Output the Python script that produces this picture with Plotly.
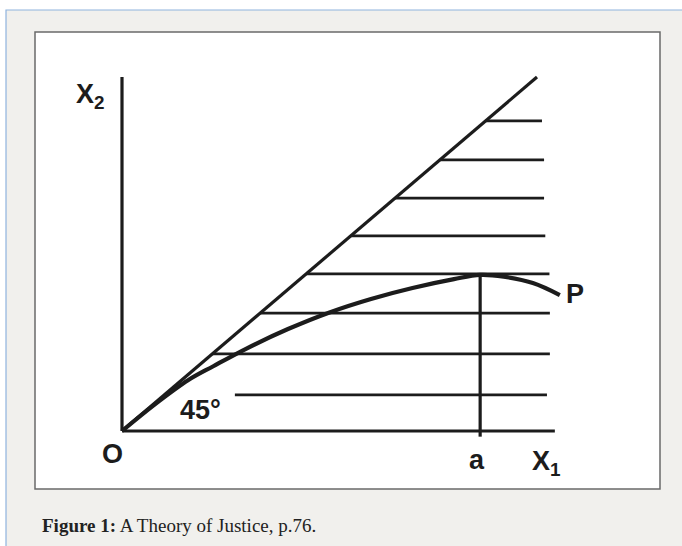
import plotly.graph_objects as go

W, H = 682, 546

# 45-degree reference line
diag_x = [0, 100]
diag_y = [0, 100]

# Axes of the diagram
x_axis_end = 104.3
y_axis_end = 100

# Horizontal hatch lines: height, left end, right end
hatch_levels = [87.6, 76.6, 65.8, 55.1, 44.4, 33.3, 21.8, 10.2]
hatch_start = [87.6, 76.6, 65.8, 55.1, 44.4, 33.3, 21.8, 27.2]
hatch_end = [101.2, 101.7, 101.7, 102.0, 103.0, 103.1, 103.1, 102.4]

# Curve P
curve_x = [0, 8, 16, 22, 30, 40, 50, 60, 70, 80, 86.3, 92, 99, 105.5]
curve_y = [0, 7.6, 14.4, 18.3, 23.3, 28.8, 33.5, 37.3, 40.4, 42.9, 44.1, 43.6, 41.8, 38.4]

# Point a on the X1 axis (peak of P)
a_x = 86.3
a_top = 44.1
a_bottom = -1.6

INK = "#1c1c1c"

fig = go.Figure()

# axes
fig.add_trace(go.Scatter(x=[0, 0, None, 0, x_axis_end], y=[y_axis_end, 0, None, 0, 0],
                         mode="lines", line=dict(color=INK, width=3.2), hoverinfo="skip"))
# 45-degree line
fig.add_trace(go.Scatter(x=diag_x, y=diag_y, mode="lines",
                         line=dict(color=INK, width=3.2), hoverinfo="skip"))
# hatch lines
hx, hy = [], []
for lv, s, e in zip(hatch_levels, hatch_start, hatch_end):
    hx += [s, e, None]
    hy += [lv, lv, None]
fig.add_trace(go.Scatter(x=hx, y=hy, mode="lines",
                         line=dict(color=INK, width=2.8), hoverinfo="skip"))
# curve P
fig.add_trace(go.Scatter(x=curve_x, y=curve_y, mode="lines",
                         line=dict(color=INK, width=4.2, shape="spline", smoothing=1.0),
                         hoverinfo="skip"))
# vertical line at a
fig.add_trace(go.Scatter(x=[a_x, a_x], y=[a_top, a_bottom], mode="lines",
                         line=dict(color=INK, width=3.2), hoverinfo="skip"))

label_font = dict(family="Liberation Sans, Arial, sans-serif", size=27, color=INK)
labels = [
    ("<b>X<sub>2</sub></b>", -7.6, 94.5),
    ("<b>O</b>", -2.4, -6.6),
    ("<b>a</b>", 85.5, -8.3),
    ("<b>X<sub>1</sub></b>", 102.4, -9.0),
    ("<b>P</b>", 109.2, 38.7),
    ("<b>45°</b>", 18.8, 5.8),
]
for text, x, y in labels:
    fig.add_annotation(x=x, y=y, text=text, showarrow=False, font=label_font,
                       xanchor="center", yanchor="middle")

# page frame and white figure box
fig.add_shape(type="rect", xref="paper", yref="paper",
              x0=6 / W, x1=1.05, y0=-0.05, y1=1 - 10 / H,
              line=dict(color="#8fb3de", width=1.2), fillcolor="#f1f0ed", layer="below")
fig.add_shape(type="rect", xref="paper", yref="paper",
              x0=35 / W, x1=660 / W, y0=1 - 489 / H, y1=1 - 32 / H,
              line=dict(color="#6a6a6a", width=1.5), fillcolor="white", layer="below")

# caption
fig.add_annotation(xref="paper", yref="paper", x=40 / W, y=1 - 525 / H,
                   xanchor="left", yanchor="middle", showarrow=False,
                   text="<b>Figure 1:</b> A Theory of Justice, p.76.",
                   font=dict(family="Liberation Serif, Times New Roman, serif", size=19, color="#222"))

sx = 4.15
sy = 3.54
fig.update_layout(
    width=W, height=H,
    margin=dict(l=0, r=0, t=0, b=0, pad=0),
    paper_bgcolor="white", plot_bgcolor="rgba(0,0,0,0)",
    showlegend=False,
    xaxis=dict(visible=False, range=[-122 / sx, (W - 122) / sx], fixedrange=True),
    yaxis=dict(visible=False, range=[-(H - 431) / sy, 431 / sy], fixedrange=True),
)

fig.write_html("out.html")
